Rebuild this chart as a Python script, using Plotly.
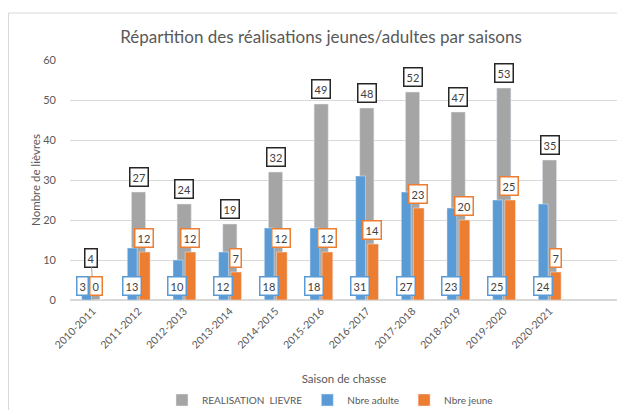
import plotly.graph_objects as go

saisons = ["2010-2011", "2011-2012", "2012-2013", "2013-2014", "2014-2015", "2015-2016",
           "2016-2017", "2017-2018", "2018-2019", "2019-2020", "2020-2021"]
realisation = [4, 27, 24, 19, 32, 49, 48, 52, 47, 53, 35]
adulte = [3, 13, 10, 12, 18, 18, 31, 27, 23, 25, 24]
jeune = [0, 12, 12, 7, 12, 12, 14, 23, 20, 25, 7]

GRAY = "#A5A5A5"
BLUE = "#5B9BD5"
ORANGE = "#ED7D31"
TXT = "#595959"
LBL = "#404040"
FONT = "Lato, Liberation Sans, sans-serif"

fig = go.Figure()
fig.add_trace(go.Bar(x=saisons, y=realisation, name="REALISATION  LIEVRE",
                     marker_color=GRAY, offset=-0.155, width=0.31))
fig.add_trace(go.Bar(x=saisons, y=adulte, name="Nbre adulte",
                     marker_color=BLUE, offset=-0.245, width=0.215))
fig.add_trace(go.Bar(x=saisons, y=jeune, name="Nbre jeune",
                     marker_color=ORANGE, offset=0.02, width=0.235))

ann = []
def box(x, y, text, border, xshift=0, yshift=4, **kw):
    d = dict(x=x, y=y, text=str(text), xref="x", yref="y", showarrow=False,
             yanchor="bottom", xshift=xshift, yshift=yshift,
             font=dict(family=FONT, size=11, color=LBL),
             bgcolor="white", bordercolor=border, borderwidth=1.5, borderpad=2)
    d.update(kw)
    ann.append(d)

for i, s in enumerate(saisons):
    # gray labels
    if realisation[i] < 8:
        ann.append(dict(x=s, y=realisation[i], text=str(realisation[i]), xref="x", yref="y",
                        showarrow=True, arrowhead=0, arrowwidth=1, arrowcolor=GRAY,
                        ax=-2, ay=-26, standoff=0,
                        font=dict(family=FONT, size=11, color=LBL),
                        bgcolor="white", bordercolor="#262626", borderwidth=1.5, borderpad=2))
    else:
        box(s, realisation[i], realisation[i], "#262626", xshift=0, yshift=5)
    # blue labels at base
    bx = -10 if jeune[i] == 0 else -7
    box(s, 0, adulte[i], BLUE, xshift=bx, yshift=4)
    # orange labels above bar
    ox = 3.5 if jeune[i] == 0 else 5.5
    box(s, jeune[i], jeune[i], ORANGE, xshift=ox, yshift=4)

# page body has an 8px margin: figure sized to fit inside the 625x410 window
W, H = 617, 402
L, R, T, B = 62, 7, 52, 110
pw, ph = W - L - R, H - T - B
# outer chart frame (light grey border of the chart area)
fig.add_shape(type="rect", xref="paper", yref="paper",
              x0=(0.5 - L) / pw, x1=(640 - L) / pw,
              y0=1 - (420 - T) / ph, y1=1 - (5 - T) / ph,
              line=dict(color="#D9D9D9", width=1), fillcolor="rgba(0,0,0,0)", layer="below")

fig.update_layout(
    width=W, height=H,
    margin=dict(l=L, r=R, t=T, b=B, autoexpand=False),
    barmode="overlay",
    plot_bgcolor="white", paper_bgcolor="white",
    font=dict(family=FONT, color=TXT),
    title=dict(text="Répartition des réalisations jeunes/adultes par saisons",
               x=313 / W, xanchor="center", y=1 - 29 / H, yanchor="middle",
               font=dict(family=FONT, size=17, color=TXT)),
    annotations=ann,
    showlegend=True,
    legend=dict(orientation="h", xref="container", x=322 / W, xanchor="center",
                yref="container", y=1 - 392 / H, yanchor="middle",
                font=dict(family=FONT, size=10, color=TXT), traceorder="normal",
                itemwidth=30, bgcolor="rgba(0,0,0,0)"),
    xaxis=dict(type="category", range=[-0.5, 11.5], tickangle=-45, automargin=False,
               tickfont=dict(family=FONT, size=10.5, color=TXT),
               showgrid=False, showline=True, linecolor="#D9D9D9", ticks="",
               title=dict(text="Saison de chasse", standoff=39,
                          font=dict(family=FONT, size=11.5, color=TXT))),
    yaxis=dict(range=[0, 60], dtick=10, showgrid=True, gridcolor="#D9D9D9", gridwidth=1,
               zeroline=True, zerolinecolor="#D9D9D9", showline=False, automargin=False,
               tickfont=dict(family=FONT, size=11, color=TXT), ticklabelstandoff=13,
               title=dict(text="Nombre de lièvres", standoff=0,
                          font=dict(family=FONT, size=11.5, color=TXT))),
)

fig.write_html("out.html")
